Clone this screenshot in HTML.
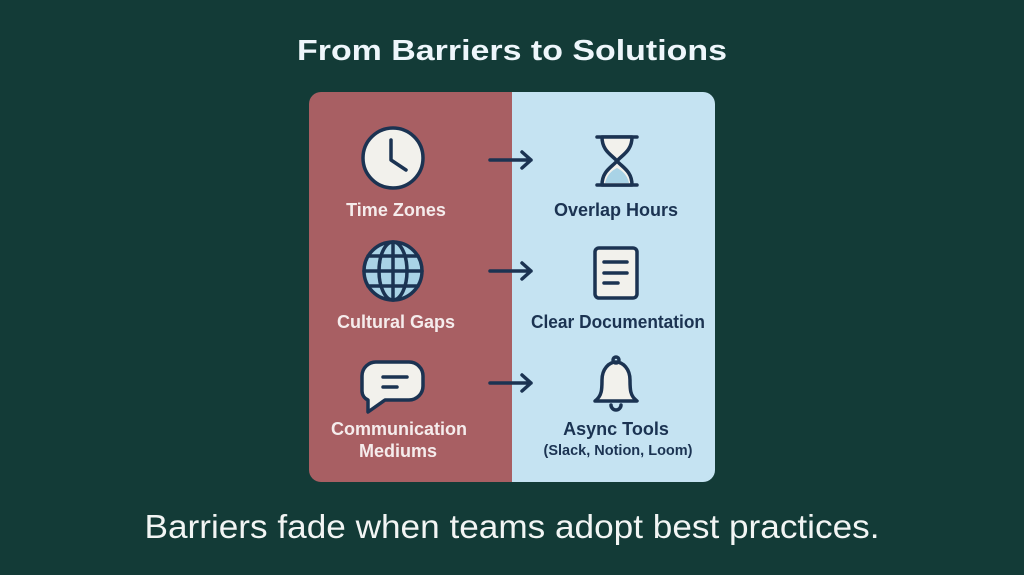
<!DOCTYPE html>
<html><head><meta charset="utf-8"><style>html,body{margin:0;padding:0;background:#133b37;}svg{display:block}</style></head>
<body>
<svg width="1024" height="575" viewBox="0 0 1024 575" xmlns="http://www.w3.org/2000/svg" font-family="Liberation Sans, sans-serif">
<rect width="1024" height="575" fill="#133b37"/>
<text x="512" y="60" text-anchor="middle" font-size="29" font-weight="bold" fill="#eef6fb" textLength="430" lengthAdjust="spacingAndGlyphs">From Barriers to Solutions</text>
<defs><clipPath id="c"><rect x="309" y="92" width="406" height="390" rx="12"/></clipPath></defs>
<g clip-path="url(#c)">
<rect x="309" y="92" width="203" height="390" fill="#a85f63"/>
<rect x="512" y="92" width="203" height="390" fill="#c5e3f2"/>
</g>
<g stroke="#1b3352" stroke-width="3.5" fill="none" stroke-linecap="round" stroke-linejoin="round">
<path d="M490 160H531M522 152l9 8-9 8"/>
<path d="M490 271H531M522 263l9 8-9 8"/>
<path d="M490 383H531M522 375l9 8-9 8"/>
<circle cx="393" cy="158" r="30" fill="#f2f1ec"/>
<path d="M391 140v20l15 10"/>
<circle cx="393" cy="271" r="29" fill="#a9d3e6"/>
<ellipse cx="393" cy="271" rx="14" ry="29"/>
<path d="M364 271h58M368 256h50M368 286h50M393 242v58"/>
<path d="M377 362h32a14 14 0 0 1 14 14v10a14 14 0 0 1-14 14h-24l-17 12v-12a10 10 0 0 1-6-9v-15a14 14 0 0 1 15-14z" fill="#f2f1ec"/>
<path d="M383 377h24M383 387h14"/>
<path d="M597 137h40M597 185h40"/>
<path d="M602 137c0 14 10 18 15 24c-5 6-15 10-15 24h30c0-14-10-18-15-24c5-6 15-10 15-24z" fill="#f2f1ec"/>
<path d="M605 183c2-9 8-13 12-15c4 2 10 6 12 15z" fill="#a9d3e6" stroke="none"/>
<rect x="595" y="248" width="42" height="50" rx="4" fill="#f2f1ec"/>
<path d="M604 262h23M604 273h23M604 283h14"/>
<path d="M595 401c7-5 7-12 7-21c0-11 7-18 14-18s14 7 14 18c0 9 0 16 7 21z" fill="#f2f1ec"/>
<circle cx="616" cy="360" r="3"/>
<path d="M611 405a5 5 0 0 0 10 0"/>
</g>
<g font-size="18" text-anchor="middle" font-weight="bold">
<text x="396" y="216" fill="#f5ecec">Time Zones</text>
<text x="396" y="328" fill="#f5ecec">Cultural Gaps</text>
<text x="399" y="435" fill="#f5ecec">Communication</text>
<text x="398" y="457" fill="#f5ecec">Mediums</text>
<text x="616" y="216" fill="#1b3352">Overlap Hours</text>
<text x="618" y="328" fill="#1b3352" textLength="174" lengthAdjust="spacingAndGlyphs">Clear Documentation</text>
<text x="616" y="435" fill="#1b3352">Async Tools</text>
<text x="618" y="455" fill="#1b3352" font-size="14.5">(Slack, Notion, Loom)</text>
</g>
<text x="512" y="538" text-anchor="middle" font-size="33" fill="#f2f5f4" textLength="735" lengthAdjust="spacingAndGlyphs">Barriers fade when teams adopt best practices.</text>
</svg>
</body></html>
